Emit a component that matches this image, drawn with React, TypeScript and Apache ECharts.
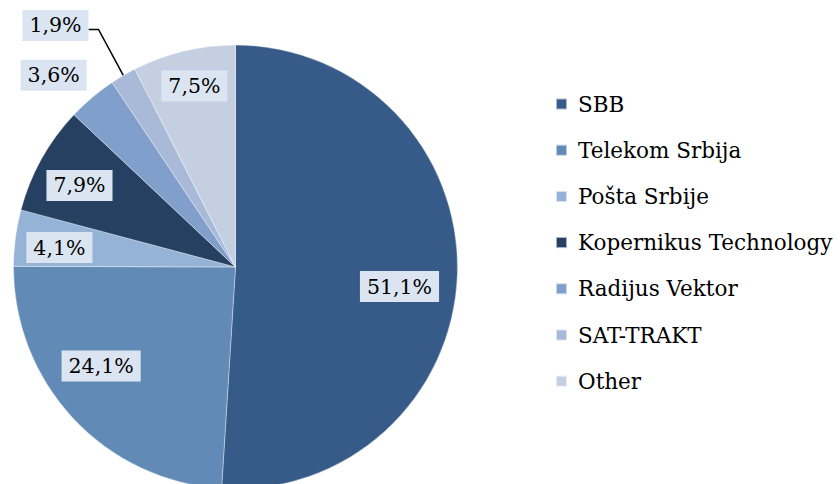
import React, { useEffect, useRef } from "react";
import * as echarts from "echarts";

const categories = [
  "SBB",
  "Telekom Srbija",
  "Pošta Srbije",
  "Kopernikus Technology",
  "Radijus Vektor",
  "SAT-TRAKT",
  "Other",
];
const shares = [51.1, 24.1, 4.1, 7.9, 3.6, 1.9, 7.5];
const labelTexts = ["51,1%", "24,1%", "4,1%", "7,9%", "3,6%", "1,9%", "7,5%"];

const colors = ["#365B88", "#628AB6", "#95B3D7", "#254061", "#819FCB", "#A9B9D8", "#C4CFE2"];
// label placement: angle (deg clockwise from top) and radial fraction of radius
const labelAngle = [96.8, 233.6, 276.3, 297.6, 316.5, 323.3, 347.2];
const labelRadius = [0.744, 0.752, 0.798, 0.793, 1.19, 1.357, 0.836];
const leaderIndex = 5;

const CX = 235.5;
const CY = 267;
const R = 222;

export default function App() {
  const ref = useRef<HTMLDivElement>(null);
  useEffect(() => {
    document.body.style.margin = "0";
    const chart = echarts.init(ref.current!, undefined, { renderer: "svg" });
    const total = shares.reduce((a, b) => a + b, 0);
    const midAngles: number[] = [];
    let acc = 0;
    shares.forEach((v) => {
      midAngles.push(((acc + v / 2) / total) * 360);
      acc += v;
    });
    const pt = (deg: number, r: number) => {
      const a = (deg * Math.PI) / 180;
      return [CX + r * Math.sin(a), CY - r * Math.cos(a)];
    };
    chart.setOption({
      animation: false,
      backgroundColor: "#ffffff",
      color: colors,
      legend: {
        orient: "vertical",
        left: 555,
        top: 91,
        padding: 0,
        itemWidth: 11,
        itemHeight: 11,
        itemGap: 20.2,
        icon: "rect",
        textStyle: {
          fontFamily: "DejaVu Serif",
          fontSize: 21.5,
          color: "#000",
          lineHeight: 26,
          padding: [0, 0, 0, 6],
        },
        data: categories,
      },
      series: [
        {
          type: "pie",
          center: [CX, CY],
          radius: R,
          startAngle: 90,
          clockwise: true,
          avoidLabelOverlap: false,
          itemStyle: { borderColor: "rgba(255,255,255,0.6)", borderWidth: 0.6 },
          label: {
            show: true,
            position: "outside",
            formatter: (p: any) => labelTexts[p.dataIndex],
            fontFamily: "DejaVu Serif",
            fontSize: 20.5,
            color: "#000",
            backgroundColor: "#DBE5F1",
            padding: [3, 7, 3, 7],
            lineHeight: 25,
          },
          labelLine: { show: true, lineStyle: { color: "#000", width: 1.5 } },
          emphasis: { disabled: true },
          labelLayout: (p: any) => {
            const i = p.dataIndex;
            const [x, y] = pt(labelAngle[i], labelRadius[i] * R);
            const res: any = { x, y, align: "center", verticalAlign: "middle" };
            if (i === leaderIndex) {
              const w = p.labelRect.width;
              const start = pt(midAngles[i], R);
              const right = x + w / 2;
              res.labelLinePoints = [start, [right + 10, y + 4], [right, y + 4]];
            }
            return res;
          },
          data: categories.map((name, i) => ({
            name,
            value: shares[i],
            labelLine: { show: i === leaderIndex },
          })),
        },
      ],
    });
    return () => chart.dispose();
  }, []);
  return <div ref={ref} style={{ width: 840, height: 484 }} />;
}
